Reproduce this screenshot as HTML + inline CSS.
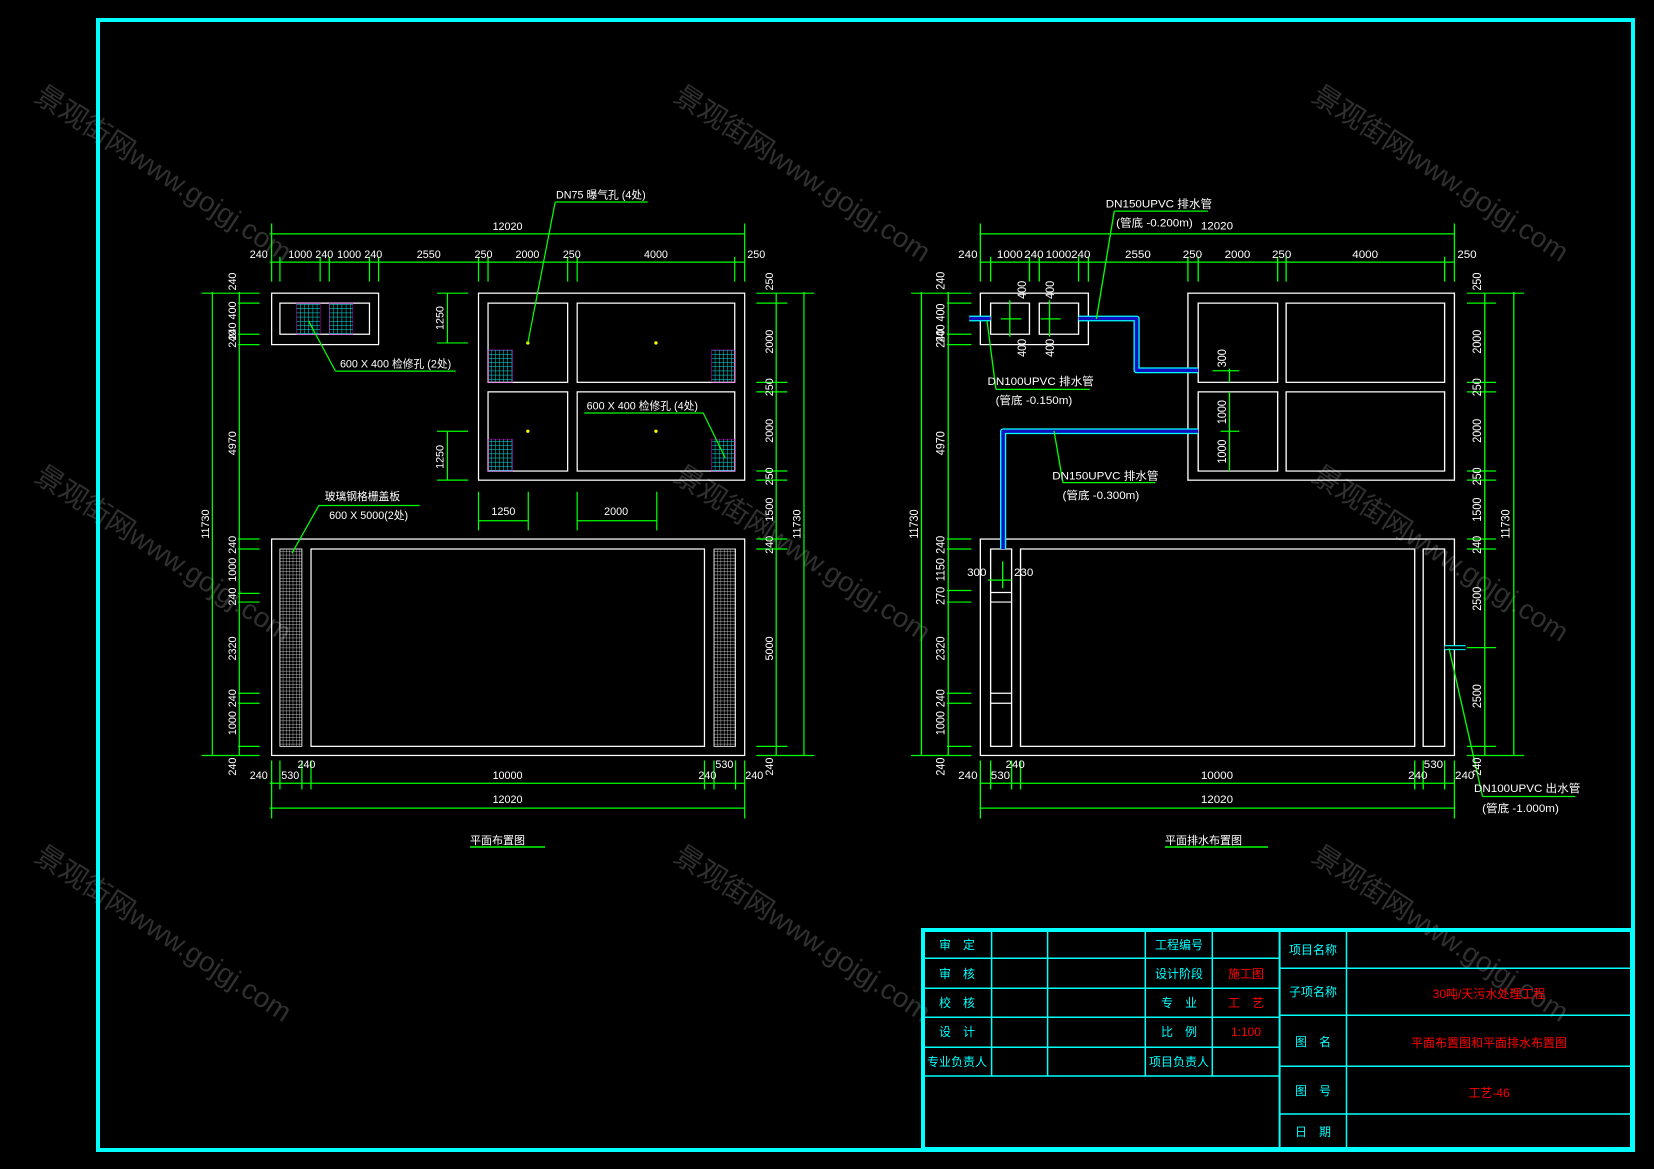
<!DOCTYPE html>
<html><head><meta charset="utf-8"><style>
html,body{margin:0;padding:0;background:#000;}
svg{display:block}
text{font-family:"Liberation Sans","Noto Sans CJK SC",sans-serif;}
</style></head><body>
<svg width="1654" height="1169" viewBox="0 0 1654 1169" xmlns="http://www.w3.org/2000/svg">
<rect width="1654" height="1169" fill="#000"/>
<!-- watermarks -->
<g fill="#303030" font-size="28" font-family="Liberation Sans,Noto Sans CJK SC,sans-serif">
<text x="33" y="100" transform="rotate(33 33 100)">景观街网www.gojgj.com</text>
<text x="672" y="100" transform="rotate(33 672 100)">景观街网www.gojgj.com</text>
<text x="1310" y="100" transform="rotate(33 1310 100)">景观街网www.gojgj.com</text>
<text x="33" y="480" transform="rotate(33 33 480)">景观街网www.gojgj.com</text>
<text x="672" y="480" transform="rotate(33 672 480)">景观街网www.gojgj.com</text>
<text x="1310" y="480" transform="rotate(33 1310 480)">景观街网www.gojgj.com</text>
<text x="33" y="860" transform="rotate(33 33 860)">景观街网www.gojgj.com</text>
<text x="672" y="860" transform="rotate(33 672 860)">景观街网www.gojgj.com</text>
<text x="1310" y="860" transform="rotate(33 1310 860)">景观街网www.gojgj.com</text>
</g>
<!-- frame -->
<rect x="98" y="20" width="1535" height="1130" fill="none" stroke="#00ffff" stroke-width="4"/>
<!-- title block -->
<g stroke="#00ffff" fill="none">
<rect x="923" y="930" width="709" height="219" stroke-width="4"/>
<line x1="1279.6" y1="930" x2="1279.6" y2="1149" stroke-width="2"/>
<line x1="1346.5" y1="930" x2="1346.5" y2="1149" stroke-width="1.5"/>
<g stroke-width="1.5">
<line x1="991.6" y1="930" x2="991.6" y2="1076"/>
<line x1="1047.6" y1="930" x2="1047.6" y2="1076"/>
<line x1="1145.3" y1="930" x2="1145.3" y2="1076"/>
<line x1="1212.3" y1="930" x2="1212.3" y2="1076"/>
<line x1="923" y1="958.3" x2="1279.6" y2="958.3"/>
<line x1="923" y1="988.3" x2="1279.6" y2="988.3"/>
<line x1="923" y1="1017.3" x2="1279.6" y2="1017.3"/>
<line x1="923" y1="1047.3" x2="1279.6" y2="1047.3"/>
<line x1="923" y1="1076" x2="1279.6" y2="1076"/>
<line x1="1279.6" y1="968.3" x2="1632" y2="968.3"/>
<line x1="1279.6" y1="1015.3" x2="1632" y2="1015.3"/>
<line x1="1279.6" y1="1066.3" x2="1632" y2="1066.3"/>
<line x1="1279.6" y1="1114" x2="1632" y2="1114"/>
</g></g>
<g fill="#00ffff" font-size="12" text-anchor="middle">
<text x="957" y="949">审　定</text>
<text x="957" y="978">审　核</text>
<text x="957" y="1007">校　核</text>
<text x="957" y="1036">设　计</text>
<text x="957" y="1066">专业负责人</text>
<text x="1179" y="949">工程编号</text>
<text x="1179" y="978">设计阶段</text>
<text x="1179" y="1007">专　业</text>
<text x="1179" y="1036">比　例</text>
<text x="1179" y="1066">项目负责人</text>
<text x="1313" y="954">项目名称</text>
<text x="1313" y="996">子项名称</text>
<text x="1313" y="1046">图　名</text>
<text x="1313" y="1095">图　号</text>
<text x="1313" y="1136">日　期</text>
</g>
<g fill="#ff0000" font-size="12" text-anchor="middle">
<text x="1246" y="978">施工图</text>
<text x="1246" y="1007">工　艺</text>
<text x="1246" y="1036">1:100</text>
<text x="1489" y="998">30吨/天污水处理工程</text>
<text x="1489" y="1047">平面布置图和平面排水布置图</text>
<text x="1489" y="1097">工艺-46</text>
</g>
<!-- captions -->
<g fill="#fff" font-size="11">
<text x="470" y="844">平面布置图</text>
<text x="1165" y="844">平面排水布置图</text>
</g>
<line x1="470" y1="847" x2="545" y2="847" stroke="#00ff00" stroke-width="1.5"/>
<line x1="1165" y1="847" x2="1268" y2="847" stroke="#00ff00" stroke-width="1.5"/>

<!-- LEFT DRAWING -->
<g transform="translate(180,180) scale(0.4146)">
<defs>
<pattern id="hc" width="10" height="10" patternUnits="userSpaceOnUse"><path d="M0 0H10M0 0V10" stroke="#00ffff" stroke-width="2" fill="none"/></pattern>
<pattern id="hw" width="8" height="8" patternUnits="userSpaceOnUse"><path d="M0 0H8M0 0V8" stroke="#ffffff" stroke-width="1.5" fill="none"/></pattern>
</defs>
<g fill="none" stroke="#fff" stroke-width="3">
<rect x="221" y="273" width="258" height="124"/>
<rect x="241" y="297" width="216" height="75"/>
<rect x="720" y="273" width="642" height="451"/>
<rect x="743" y="297" width="192" height="191"/>
<rect x="958" y="297" width="380" height="191"/>
<rect x="743" y="511" width="192" height="191"/>
<rect x="958" y="511" width="380" height="191"/>
<rect x="221" y="866" width="1141" height="522"/>
<rect x="316" y="890" width="949" height="476"/>
</g>
<g stroke="#ff00ff" stroke-width="1">
<rect x="281" y="297" width="57" height="75" fill="url(#hc)"/>
<rect x="360" y="297" width="57" height="75" fill="url(#hc)"/>
<rect x="743" y="410" width="59" height="78" fill="url(#hc)"/>
<rect x="1282" y="410" width="56" height="78" fill="url(#hc)"/>
<rect x="743" y="625" width="59" height="77" fill="url(#hc)"/>
<rect x="1282" y="625" width="56" height="77" fill="url(#hc)"/>
</g>
<rect x="241" y="890" width="53" height="476" fill="url(#hw)" stroke="#fff" stroke-width="2"/>
<rect x="1288" y="890" width="52" height="476" fill="url(#hw)" stroke="#fff" stroke-width="2"/>
<g fill="#ff0"><circle cx="839" cy="393" r="4"/><circle cx="1148" cy="393" r="4"/><circle cx="839" cy="606" r="4"/><circle cx="1148" cy="606" r="4"/></g>
<g stroke="#00ff00" stroke-width="3" fill="none">
<path d="M216 130H1362M216 198H1362M221 105V245M1362 105V245"/>
<path d="M241 185V245M338 185V245M360 185V245M457 185V245M479 185V245M720 185V245M743 185V245M935 185V245M958 185V245M1338 185V245"/>
<path d="M143 270V1388M78 270V1388M52 273H192M52 1388H192"/>
<path d="M140 297H192M140 372H192M140 397H192M140 866H192M140 890H192M140 997H192M140 1018H192M140 1238H192M140 1262H192M140 1366H192"/>
<path d="M1438 273V1388M1505 270V1388M1390 273H1530M1390 1388H1530"/>
<path d="M1390 297H1465M1390 488H1465M1390 511H1465M1390 702H1465M1390 724H1465M1390 866H1465M1390 890H1465M1390 1366H1465"/>
<path d="M216 1455H1362M216 1515H1362M221 1400V1540M1362 1400V1540M241 1400V1470M294 1400V1470M316 1400V1470M1265 1400V1470M1288 1400V1470M1340 1400V1470"/>
<path d="M645 273V393M620 273H695M620 393H695M645 606V724M620 606H695M620 724H695"/>
<path d="M720 822H840M958 822H1150M720 752V845M840 752V845M958 752V845M1150 752V845"/>
<path d="M905 53H1128M905 53L839 393M375 461H665M375 461L310 340M975 562H1262M1262 562L1315 670M335 785H578M335 785L270 900"/>
</g>
<g fill="#fff" font-size="26" text-anchor="middle">
<text x="790" y="120">12020</text>
<text x="190" y="188">240</text><text x="290" y="188">1000</text><text x="348" y="188">240</text><text x="408" y="188">1000</text><text x="466" y="188">240</text><text x="600" y="188">2550</text><text x="732" y="188">250</text><text x="838" y="188">2000</text><text x="945" y="188">250</text><text x="1148" y="188">4000</text><text x="1390" y="188">250</text>
<text x="790" y="1445">10000</text><text x="190" y="1445">240</text><text x="266" y="1445">530</text><text x="1272" y="1445">240</text><text x="1385" y="1445">240</text><text x="305" y="1418">240</text><text x="1313" y="1418">530</text>
<text x="790" y="1503">12020</text>
<text x="780" y="808">1250</text><text x="1052" y="808">2000</text>
<text x="1015" y="45">DN75 曝气孔 (4处)</text>
<text x="520" y="452">600 X 400 检修孔 (2处)</text>
<text x="1115" y="553">600 X 400 检修孔 (4处)</text>
<text x="440" y="772">玻璃钢格栅盖板</text>
<text x="455" y="818">600 X 5000(2处)</text>
<g transform="rotate(-90)">
<text x="-245" y="135">240</text><text x="-340" y="135">240 400</text><text x="-383" y="135">240</text><text x="-635" y="135">4970</text><text x="-880" y="135">240</text><text x="-940" y="135">1000</text><text x="-1005" y="135">240</text><text x="-1130" y="135">2320</text><text x="-1250" y="135">240</text><text x="-1310" y="135">1000</text><text x="-1415" y="135">240</text>
<text x="-830" y="70">11730</text>
<text x="-245" y="1430">250</text><text x="-390" y="1430">2000</text><text x="-500" y="1430">250</text><text x="-605" y="1430">2000</text><text x="-715" y="1430">250</text><text x="-795" y="1430">1500</text><text x="-880" y="1430">240</text><text x="-1130" y="1430">5000</text><text x="-1415" y="1430">240</text>
<text x="-830" y="1497">11730</text>
<text x="-333" y="635">1250</text><text x="-668" y="635">1250</text>
</g></g>
</g>

<!-- RIGHT DRAWING -->
<g transform="translate(900,180) scale(0.4464,0.4146)">
<g fill="none" stroke="#fff" stroke-width="3">
<rect x="180" y="273" width="242" height="124"/>
<rect x="203" y="297" width="87" height="75"/>
<rect x="312" y="297" width="88" height="75"/>
<rect x="645" y="273" width="597" height="451"/>
<rect x="668" y="297" width="178" height="191"/>
<rect x="865" y="297" width="355" height="191"/>
<rect x="668" y="511" width="178" height="191"/>
<rect x="865" y="511" width="355" height="191"/>
<rect x="180" y="866" width="1062" height="522"/>
<rect x="203" y="890" width="47" height="476"/>
<rect x="270" y="890" width="883" height="476"/>
<rect x="1172" y="890" width="48" height="476"/>
<path d="M203 995H250M203 1018H250M203 1238H250M203 1262H250"/>
</g>
<!-- pipes -->
<g fill="none" stroke-linejoin="round">
<path d="M155 334H203M400 334H530V459H668M668 606H231V890" stroke="#00ffff" stroke-width="14"/>
<path d="M155 334H203M400 334H530V459H668M668 606H231V890" stroke="#1010c0" stroke-width="8"/>
<path d="M1220 1128H1267" stroke="#00ffff" stroke-width="12"/>
<path d="M1220 1128H1267" stroke="#000" stroke-width="7"/>
</g>
<g stroke="#00ff00" stroke-width="3" fill="none">
<path d="M178 130H1242M178 198H1242M180 105V245M1242 105V245"/>
<path d="M203 185V245M290 185V245M312 185V245M400 185V245M422 185V245M645 185V245M668 185V245M846 185V245M865 185V245M1220 185V245"/>
<path d="M108 270V1388M48 270V1388M25 273H160M25 1388H160"/>
<path d="M105 297H160M105 372H160M105 397H160M105 866H160M105 890H160M105 990H160M105 1018H160M105 1238H160M105 1262H160M105 1366H160"/>
<path d="M1310 273V1388M1375 270V1388M1270 273H1398M1270 1388H1398"/>
<path d="M1270 297H1335M1270 488H1335M1270 511H1335M1270 702H1335M1270 724H1335M1270 866H1335M1270 890H1335M1270 1128H1335M1270 1366H1335"/>
<path d="M178 1455H1242M178 1515H1242M180 1400V1540M1242 1400V1540M203 1400V1470M250 1400V1470M270 1400V1470M1153 1400V1470M1172 1400V1470M1220 1400V1470"/>
<path d="M246 290V378M226 335H272M335 290V378M315 335H360"/>
<path d="M738 455V488M700 460H760M738 511V702M718 606H760"/>
<path d="M197 965H250M230 920V985"/>
<path d="M480 75H690M480 75L440 335M215 505H425M215 505L195 340M365 730H572M365 730L345 605M1305 1487H1513M1305 1487L1230 1130"/>
</g>
<g fill="#fff" font-size="26" text-anchor="middle">
<text x="710" y="120">12020</text>
<text x="152" y="188">240</text><text x="246" y="188">1000</text><text x="300" y="188">240</text><text x="355" y="188">1000</text><text x="405" y="188">240</text><text x="533" y="188">2550</text><text x="655" y="188">250</text><text x="756" y="188">2000</text><text x="855" y="188">250</text><text x="1042" y="188">4000</text><text x="1270" y="188">250</text>
<text x="710" y="1445">10000</text><text x="152" y="1445">240</text><text x="225" y="1445">530</text><text x="1160" y="1445">240</text><text x="1265" y="1445">240</text><text x="258" y="1418">240</text><text x="1195" y="1418">530</text>
<text x="710" y="1503">12020</text>
<text x="172" y="955">300</text><text x="277" y="955">230</text>
<text x="580" y="66">DN150UPVC  排水管</text><text x="570" y="112">(管底 -0.200m)</text>
<text x="315" y="494">DN100UPVC  排水管</text><text x="300" y="540">(管底 -0.150m)</text>
<text x="460" y="722">DN150UPVC  排水管</text><text x="450" y="770">(管底 -0.300m)</text>
<text x="1405" y="1476">DN100UPVC  出水管</text><text x="1390" y="1524">(管底 -1.000m)</text>
<g transform="rotate(-90)">
<text x="-243" y="100">240</text><text x="-345" y="100">240 400</text><text x="-383" y="100">240</text><text x="-635" y="100">4970</text><text x="-880" y="100">240</text><text x="-940" y="100">1150</text><text x="-1003" y="100">270</text><text x="-1130" y="100">2320</text><text x="-1250" y="100">240</text><text x="-1310" y="100">1000</text><text x="-1415" y="100">240</text>
<text x="-830" y="40">11730</text>
<text x="-245" y="1302">250</text><text x="-390" y="1302">2000</text><text x="-500" y="1302">250</text><text x="-605" y="1302">2000</text><text x="-715" y="1302">250</text><text x="-795" y="1302">1500</text><text x="-880" y="1302">240</text><text x="-1010" y="1302">2500</text><text x="-1245" y="1302">2500</text><text x="-1415" y="1302">240</text>
<text x="-830" y="1365">11730</text>
<text x="-430" y="730">300</text><text x="-560" y="730">1000</text><text x="-655" y="730">1000</text>
<text x="-265" y="282">400</text><text x="-265" y="345">400</text><text x="-405" y="282">400</text><text x="-405" y="345">400</text>
</g></g>
</g>
</svg>
</body></html>
